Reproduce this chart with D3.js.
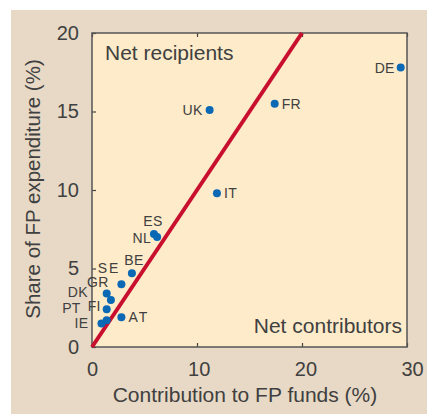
<!DOCTYPE html>
<html><head><meta charset="utf-8">
<script src="https://cdn.jsdelivr.net/npm/d3@7/dist/d3.min.js"></script>
<style>
html,body{margin:0;padding:0;background:#fff;}
svg{display:block;}
text{font-family:"Liberation Sans",Arial,sans-serif;fill:#404040;}
</style></head>
<body>
<script>
// Data
const countries    = ["DE","FR","UK","IT","ES","NL","BE","SE","GR","DK","FI","AT","PT","IE"];
const contribution = [29.4,17.4,11.2,11.9,5.9,6.2,3.8,2.8,1.4,1.8,1.4,2.8,1.4,0.9];
const expenditure  = [17.8,15.5,15.1,9.8,7.2,7.0,4.7,4.0,3.4,3.0,2.4,1.9,1.7,1.5];
const xTicks = [0,10,20,30];
const yTicks = [0,5,10,15,20];
const diagonal = [[0,0],[20,20]];

// label placement (layout only)
const labelPlace = {
  DE:[-6,5,"end"], FR:[7,5,"start"], UK:[-7,5,"end"], IT:[7,5,"start"],
  ES:[-1,-8,"middle"], NL:[-6,6,"end"], BE:[2,-8,"middle"], SE:[-1,-11,"end"],
  GR:[2,-7,"end"], DK:[-23,-3,"end"], FI:[-6,2,"end"], AT:[7,5,"start"],
  PT:[-26,-7,"end"], IE:[-13,5,"end"]
};

const W=427,H=414;
const m={l:92,t:33,r:407,b:347};
const svg=d3.select("body").append("svg").attr("width",W).attr("height",H);
svg.append("rect").attr("x",11).attr("y",10).attr("width",W-11).attr("height",H-10).attr("fill","#e7d9c5");

const x=d3.scaleLinear().domain([0,30]).range([m.l,m.r]);
const y=d3.scaleLinear().domain([0,20]).range([m.b,m.t]);

svg.append("rect").attr("x",m.l).attr("y",m.t).attr("width",m.r-m.l).attr("height",m.b-m.t)
  .attr("fill","#fdebc9");

const fs=20;
const xa=svg.append("g").attr("transform",`translate(0,${m.b})`)
  .call(d3.axisBottom(x).tickValues(xTicks).tickSizeInner(-4).tickSizeOuter(0).tickPadding(15));
const ya=svg.append("g").attr("transform",`translate(${m.l},0)`)
  .call(d3.axisLeft(y).tickValues(yTicks).tickSizeInner(-4).tickSizeOuter(0).tickPadding(13));
const ta=svg.append("g").attr("transform",`translate(0,${m.t})`)
  .call(d3.axisTop(x).tickValues(xTicks).tickSizeInner(-4).tickSizeOuter(0).tickFormat(""));
[xa,ya,ta].forEach(g=>{
  g.select(".domain").remove();
  g.selectAll(".tick line").attr("stroke","#444").attr("stroke-width",1.2);
  g.selectAll(".tick text").attr("font-size",fs).attr("font-family","Liberation Sans, Arial, sans-serif").attr("fill","#404040");
});
xa.selectAll(".tick text").attr("dx",(d,i)=>i*1.7);

svg.append("rect").attr("x",m.l).attr("y",m.t).attr("width",m.r-m.l).attr("height",m.b-m.t)
  .attr("fill","none").attr("stroke","#555").attr("stroke-width",1.5);

svg.append("path").datum(diagonal)
  .attr("d",d3.line().x(d=>x(d[0])).y(d=>y(d[1])))
  .attr("stroke","#c8102e").attr("stroke-width",4).attr("fill","none");

const pts=countries.map((c,i)=>({c,x:contribution[i],y:expenditure[i]}));
svg.selectAll("circle.p").data(pts).join("circle").attr("class","p")
  .attr("cx",d=>x(d.x)).attr("cy",d=>y(d.y)).attr("r",4).attr("fill","#0a68b4");

svg.selectAll("text.lab").data(pts).join("text").attr("class","lab")
  .attr("x",d=>x(d.x)+labelPlace[d.c][0]).attr("y",d=>y(d.y)+labelPlace[d.c][1])
  .attr("text-anchor",d=>labelPlace[d.c][2]).attr("font-size",14)
  .attr("letter-spacing",d=>(d.c==="AT"||d.c==="SE")?2:0.3)
  .text(d=>d.c);

svg.append("text").attr("x",105).attr("y",60).attr("font-size",21).text("Net recipients");
svg.append("text").attr("x",402).attr("y",333).attr("text-anchor","end").attr("font-size",21).text("Net contributors");

svg.append("text").attr("x",245).attr("y",402).attr("text-anchor","middle").attr("font-size",21)
  .text("Contribution to FP funds (%)");
svg.append("text").attr("transform","translate(40,189) rotate(-90)").attr("text-anchor","middle").attr("font-size",20.5)
  .text("Share of FP expenditure (%)");
</script>
</body></html>
